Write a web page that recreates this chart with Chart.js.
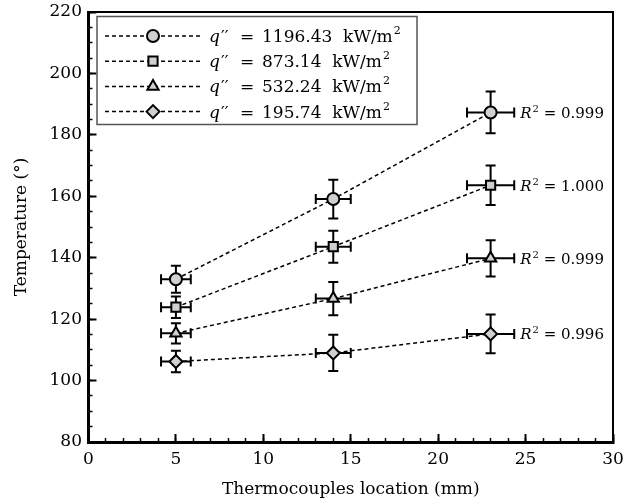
<!DOCTYPE html>
<html>
<head>
<meta charset="utf-8">
<script src="https://cdn.jsdelivr.net/npm/chart.js@4.4.1/dist/chart.umd.min.js"></script>
<style>
html,body{margin:0;padding:0;background:#fff;}
canvas{display:block;}
</style>
</head>
<body>
<canvas id="tempChart" width="634" height="504"></canvas>
<script>
// thermocouple positions (mm) and horizontal uncertainty
const xLoc = [5, 14, 23];
const xErr = [0.85, 1.0, 1.35];
// heat flux labels (kW/m2), one per series
const fluxLabels = ['1196.43', '873.14', '532.24', '195.74'];
// temperatures
const t1196 = [133.0, 159.1, 187.3];
const t873 = [123.9, 143.6, 163.6];
const t532 = [115.4, 126.7, 139.8];
const t196 = [106.2, 109.0, 115.2];
// vertical error (+/-)
const e1196 = [4.4, 6.3, 6.8];
const e873 = [3.5, 5.2, 6.4];
const e532 = [3.3, 5.4, 5.9];
const e196 = [3.5, 5.9, 6.3];
const r2Labels = ['0.999', '1.000', '0.999', '0.996'];
// axis ranges / tick steps
const xRange = [0, 30];
const yRange = [80, 220];
const xSteps = [5, 1];
const ySteps = [20, 5];

const serif = 'DejaVu Serif';
const axisFont = { family: serif, size: 17 };

const temps = [t1196, t873, t532, t196];
const errs = [e1196, e873, e532, e196];
const styles = [['circle', 6], ['rect', 6.5], ['triangle', 6.5], ['rectRot', 6.5]];

const datasets = temps.map((t, i) => ({
  label: fluxLabels[i],
  data: xLoc.map((x, j) => ({ x: x, y: t[j] })),
  xErr: xErr,
  yErr: errs[i],
  r2: r2Labels[i],
  showLine: true,
  borderColor: '#000',
  borderWidth: 1.5,
  borderDash: [4, 3],
  pointStyle: styles[i][0],
  pointRadius: styles[i][1],
  pointBackgroundColor: '#d0d0d0',
  pointBorderColor: '#000',
  pointBorderWidth: 2
}));

const errorBars = {
  id: 'errorBars',
  beforeDatasetsDraw(chart) {
    const { ctx, scales: { x, y } } = chart;
    ctx.save();
    ctx.strokeStyle = '#000';
    ctx.lineWidth = 2;
    chart.data.datasets.forEach(ds => {
      ds.data.forEach((p, i) => {
        const px = x.getPixelForValue(p.x), py = y.getPixelForValue(p.y);
        const top = y.getPixelForValue(p.y + ds.yErr[i]), bot = y.getPixelForValue(p.y - ds.yErr[i]);
        const l = x.getPixelForValue(p.x - ds.xErr[i]), r = x.getPixelForValue(p.x + ds.xErr[i]);
        ctx.beginPath();
        ctx.moveTo(px, top); ctx.lineTo(px, bot);
        ctx.moveTo(px - 5, top); ctx.lineTo(px + 5, top);
        ctx.moveTo(px - 5, bot); ctx.lineTo(px + 5, bot);
        ctx.moveTo(l, py); ctx.lineTo(r, py);
        ctx.moveTo(l, py - 5); ctx.lineTo(l, py + 5);
        ctx.moveTo(r, py - 5); ctx.lineTo(r, py + 5);
        ctx.stroke();
      });
    });
    ctx.restore();
  }
};

// R^2 = ... next to the last point of every series
const r2Text = {
  id: 'r2Text',
  afterDatasetsDraw(chart) {
    const { ctx, scales: { x, y } } = chart;
    ctx.save();
    ctx.fillStyle = '#000';
    ctx.textBaseline = 'alphabetic';
    chart.data.datasets.forEach(ds => {
      const n = ds.data.length - 1;
      const p = ds.data[n];
      let tx = x.getPixelForValue(p.x + ds.xErr[n]) + 6;
      const base = y.getPixelForValue(p.y) + 5.5;
      ctx.font = 'italic 15px "' + serif + '"';
      ctx.fillText('R', tx, base);
      tx += ctx.measureText('R').width + 1;
      ctx.font = '10px "' + serif + '"';
      ctx.fillText('2', tx, base - 6);
      tx += ctx.measureText('2').width;
      ctx.font = '15px "' + serif + '"';
      ctx.fillText(' = ' + ds.r2, tx, base);
    });
    ctx.restore();
  }
};

const legendBox = {
  id: 'legendBox',
  afterDraw(chart) {
    const { ctx, chartArea } = chart;
    const bx = chartArea.left + 8.5, by = chartArea.top + 4.5, bw = 320, bh = 108;
    ctx.save();
    ctx.fillStyle = '#fff';
    ctx.fillRect(bx, by, bw, bh);
    ctx.strokeStyle = '#555';
    ctx.lineWidth = 1.5;
    ctx.strokeRect(bx, by, bw, bh);
    chart.data.datasets.forEach((ds, i) => {
      const cy = by + 19.5 + i * 25.2;
      ctx.strokeStyle = '#000';
      ctx.lineWidth = 1.5;
      ctx.setLineDash([4, 3]);
      ctx.beginPath();
      ctx.moveTo(bx + 8, cy);
      ctx.lineTo(bx + 105, cy);
      ctx.stroke();
      ctx.setLineDash([]);
      ctx.fillStyle = ds.pointBackgroundColor;
      ctx.strokeStyle = ds.pointBorderColor;
      ctx.lineWidth = ds.pointBorderWidth;
      Chart.helpers.drawPoint(ctx, { pointStyle: ds.pointStyle, radius: ds.pointRadius, rotation: 0, borderWidth: ds.pointBorderWidth }, bx + 56, cy);
      const base = cy + 6;
      ctx.fillStyle = '#000';
      ctx.font = 'italic 17px "' + serif + '"';
      ctx.fillText('q', bx + 112, base);
      const qw = ctx.measureText('q').width;
      ctx.font = '17px "' + serif + '"';
      ctx.fillText('\u2032\u2032', bx + 113 + qw, base);
      ctx.fillText('=', bx + 143, base);
      const label = ds.label + '  kW/m';
      ctx.fillText(label, bx + 165, base);
      const lw = ctx.measureText(label).width;
      ctx.font = '11px "' + serif + '"';
      ctx.fillText('2', bx + 166 + lw, base - 8);
    });
    ctx.restore();
  }
};

function fixWidth(w) {
  return s => { s.width = w; s.paddingTop = 0; s.paddingBottom = 0; };
}
function fixHeight(h) {
  return s => { s.height = h; s.paddingLeft = 0; s.paddingRight = 0; };
}

new Chart(document.getElementById('tempChart'), {
  type: 'scatter',
  data: { datasets: datasets },
  options: {
    responsive: false,
    animation: false,
    layout: { padding: { top: 12, right: 21, bottom: 0, left: 0 } },
    plugins: { legend: { display: false }, tooltip: { enabled: false } },
    scales: {
      x: {
        type: 'linear', position: 'bottom', weight: 10,
        min: xRange[0], max: xRange[1],
        ticks: { stepSize: xSteps[0], color: '#000', font: axisFont, padding: 15 },
        grid: { drawOnChartArea: false, tickLength: -8, tickWidth: 2, tickColor: '#000' },
        border: { color: '#000', width: 3 },
        title: { display: true, text: 'Thermocouples location (mm)', color: '#000', font: axisFont, padding: { top: 0, bottom: 4 } },
        afterFit: fixHeight(62)
      },
      xMinor: {
        type: 'linear', position: 'bottom', weight: 0,
        min: xRange[0], max: xRange[1],
        ticks: { display: false, stepSize: xSteps[1] },
        grid: { drawOnChartArea: false, tickLength: -4, tickWidth: 1.5, tickColor: '#000' },
        border: { display: false },
        afterFit: fixHeight(0)
      },
      xTop: {
        type: 'linear', position: 'top',
        min: xRange[0], max: xRange[1],
        ticks: { display: false },
        grid: { drawOnChartArea: false, drawTicks: false },
        border: { color: '#000', width: 2 },
        afterFit: fixHeight(0)
      },
      y: {
        type: 'linear', position: 'left', weight: 10,
        min: yRange[0], max: yRange[1],
        ticks: { stepSize: ySteps[0], color: '#000', font: axisFont, padding: 14.5 },
        grid: { drawOnChartArea: false, tickLength: -8, tickWidth: 2, tickColor: '#000' },
        border: { color: '#000', width: 3 },
        title: { display: true, text: 'Temperature (°)', color: '#000', font: axisFont, padding: { top: 11, bottom: 0 } },
        afterFit: fixWidth(88.5)
      },
      yMinor: {
        type: 'linear', position: 'left', weight: 0,
        min: yRange[0], max: yRange[1],
        ticks: { display: false, stepSize: ySteps[1] },
        grid: { drawOnChartArea: false, tickLength: -4, tickWidth: 1.5, tickColor: '#000' },
        border: { display: false },
        afterFit: fixWidth(0)
      },
      yRight: {
        type: 'linear', position: 'right',
        min: yRange[0], max: yRange[1],
        ticks: { display: false },
        grid: { drawOnChartArea: false, drawTicks: false },
        border: { color: '#000', width: 2 },
        afterFit: fixWidth(0)
      }
    }
  },
  plugins: [errorBars, r2Text, legendBox]
});
</script>
</body>
</html>
